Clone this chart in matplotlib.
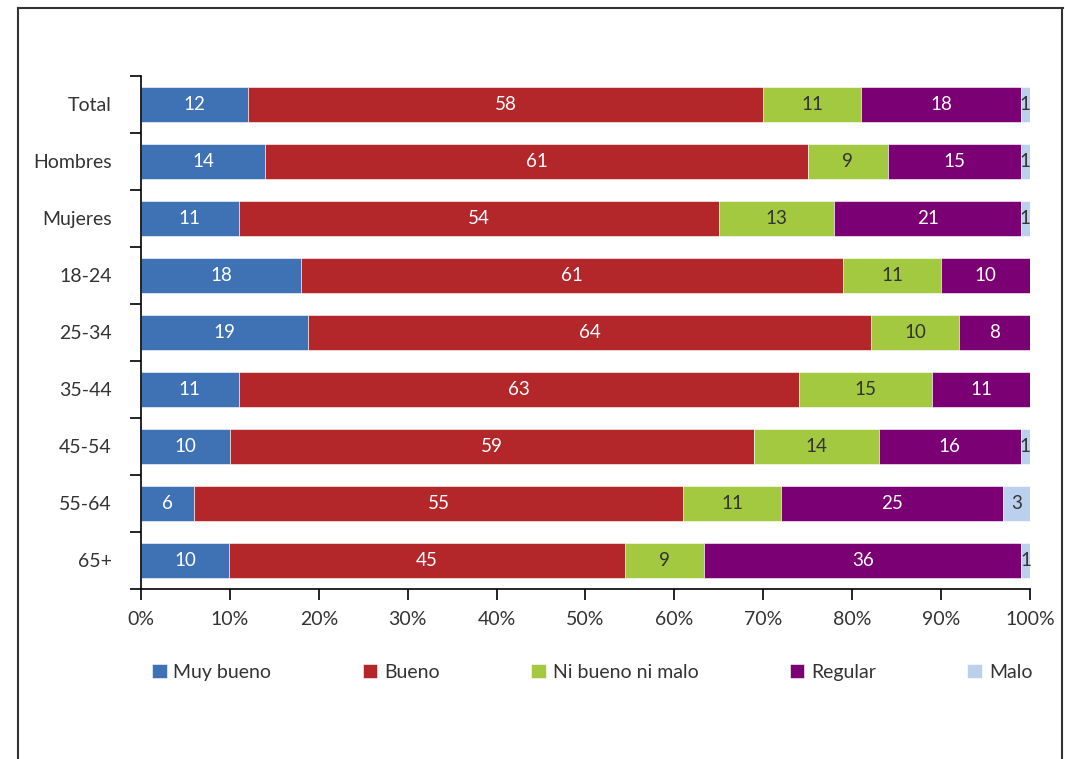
import matplotlib.pyplot as plt
import numpy as np

plt.rcParams['font.family'] = ['Lato', 'DejaVu Sans']

# survey results per group (percent)
groups = ['Total', 'Hombres', 'Mujeres', '18-24', '25-34', '35-44', '45-54', '55-64', '65+']
muy_bueno = [12, 14, 11, 18, 19, 11, 10, 6, 10]
bueno = [58, 61, 54, 61, 64, 63, 59, 55, 45]
ni_bueno_ni_malo = [11, 9, 13, 11, 10, 15, 14, 11, 9]
regular = [18, 15, 21, 10, 8, 11, 16, 25, 36]
malo = [1, 1, 1, 0, 0, 0, 1, 3, 1]

series = [
    ('Muy bueno', muy_bueno, '#3F71B5', 'white'),
    ('Bueno', bueno, '#B3272A', 'white'),
    ('Ni bueno ni malo', ni_bueno_ni_malo, '#A2C940', '#333333'),
    ('Regular', regular, '#7B0073', 'white'),
    ('Malo', malo, '#BAD0EC', '#333333'),
]

fig = plt.figure(figsize=(10.65, 7.59), dpi=100)
ax = fig.add_axes([0.1324, 0.224, 0.8346, 0.676])

# stacked bars normalised to 100%
data = np.array([s[1] for s in series], dtype=float)
totals = data.sum(axis=0)
shares = data / totals * 100
y = np.arange(len(groups))
left = np.zeros(len(groups))
for (name, vals, color, tcolor), share in zip(series, shares):
    ax.barh(y, share, left=left, height=0.6, color=color, label=name,
            edgecolor='white', linewidth=0.4)
    for i, v in enumerate(vals):
        if v > 0:
            ax.text(left[i] + share[i] / 2, y[i], str(v), ha='center', va='center',
                    color=tcolor, fontsize=13.5)
    left += share

ax.set_xlim(0, 100)
ax.set_ylim(len(groups) - 0.5, -0.5)
ax.set_xticks(np.arange(0, 101, 10))
ax.set_xticklabels([f'{t}%' for t in range(0, 101, 10)])
ax.set_yticks(y)
ax.set_yticklabels(groups)
ax.set_yticks(np.arange(-0.5, len(groups), 1), minor=True)
ax.tick_params(axis='y', which='major', length=0, pad=21, labelsize=14, labelcolor='#333333')
ax.tick_params(axis='y', which='minor', length=8, width=1.2, direction='out')
ax.tick_params(axis='x', length=8, width=1.2, direction='out', pad=8, labelsize=14,
               labelcolor='#333333')
for s in ['top', 'right']:
    ax.spines[s].set_visible(False)
for s in ['left', 'bottom']:
    ax.spines[s].set_linewidth(1.2)

fig.legend(loc='center', bbox_to_anchor=(0.556, 0.114), ncol=5, frameon=False,
           fontsize=14, handlelength=0.75, handleheight=0.75, handletextpad=0.35,
           columnspacing=4.7, labelcolor='#333333')

# outer frame
fig.add_artist(plt.Line2D([0.017, 0.017], [0, 0.99], color='#333333', lw=1.5))
fig.add_artist(plt.Line2D([0.017, 0.998], [0.99, 0.99], color='#333333', lw=1.5))
fig.add_artist(plt.Line2D([0.997, 0.997], [0, 0.99], color='#333333', lw=1.5))

fig.savefig('out.png', dpi=100)
